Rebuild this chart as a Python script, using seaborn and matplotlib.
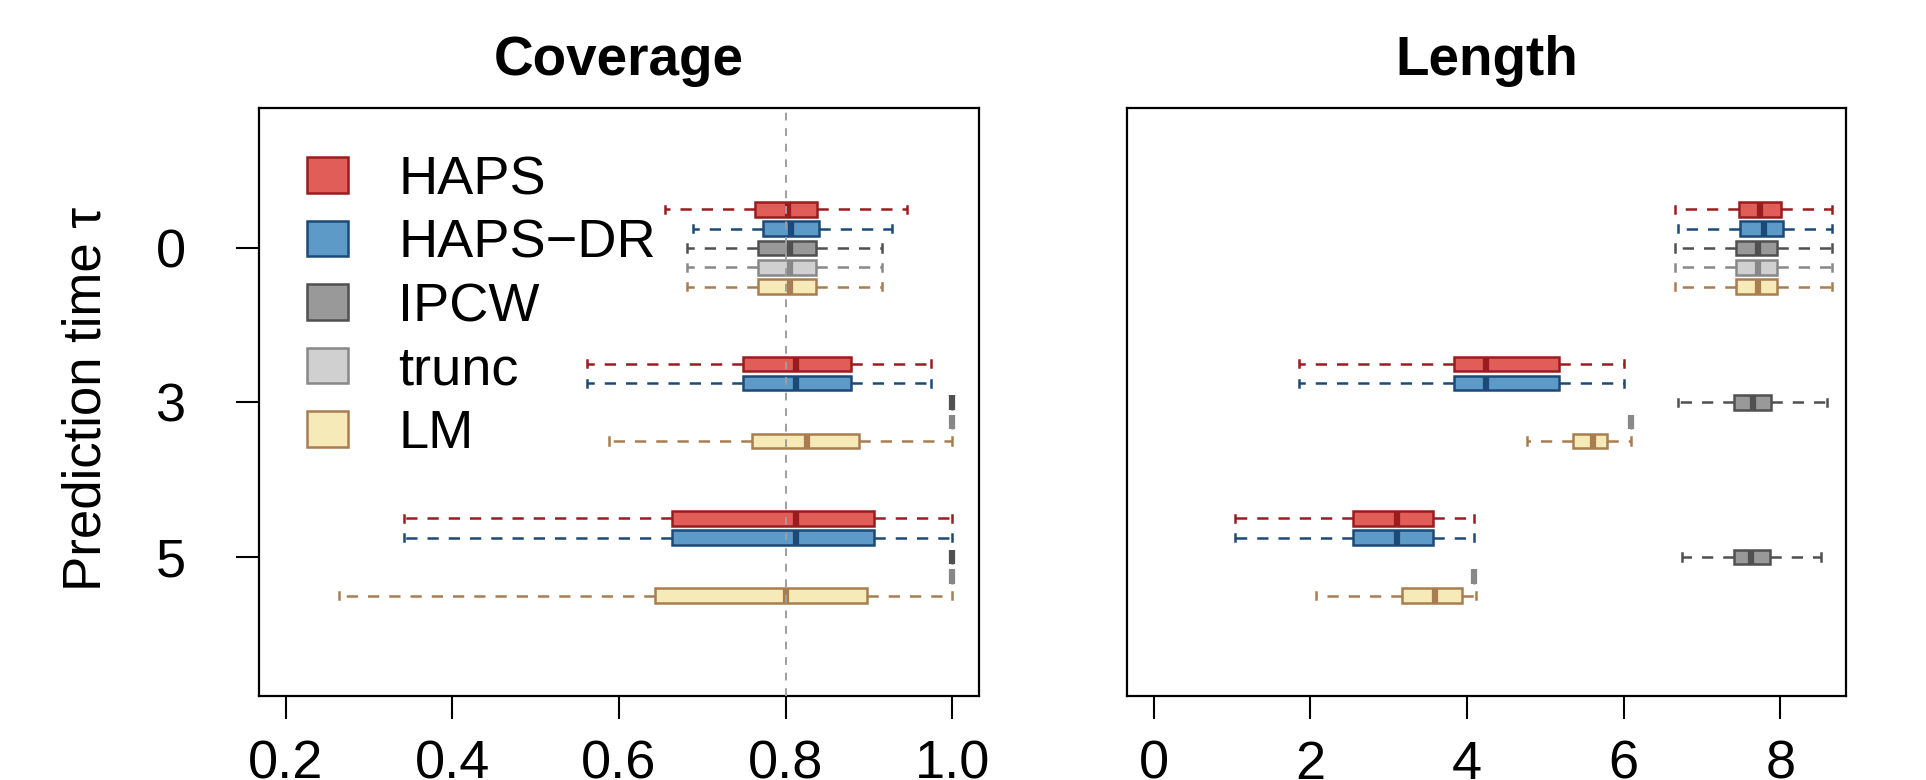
import numpy as np
import pandas as pd
import matplotlib
matplotlib.use('Agg')
import matplotlib.pyplot as plt
import seaborn as sns
from matplotlib.patches import Patch

plt.rcParams['font.family'] = ['Liberation Sans', 'DejaVu Sans']
plt.rcParams['axes.linewidth'] = 1.6

taus = ['0', '3', '5']
methods = ['HAPS', 'HAPS\u2212DR', 'IPCW', 'trunc', 'LM']
fills = ['#E05D58', '#5E9AC8', '#999999', '#D0D0D0', '#F7EAB9']
edges = ['#9B1C1F', '#1C4A78', '#505050', '#888888', '#A87D50']

# five-number summaries [low whisker, Q1, median, Q3, high whisker] for tau = 0, 3, 5
cov_haps = [[0.655, 0.763, 0.803, 0.838, 0.946], [0.562, 0.749, 0.812, 0.878, 0.974], [0.342, 0.664, 0.812, 0.906, 1.0]]
cov_dr = [[0.689, 0.773, 0.806, 0.840, 0.928], [0.562, 0.749, 0.812, 0.878, 0.974], [0.342, 0.664, 0.812, 0.906, 1.0]]
cov_ipcw = [[0.682, 0.767, 0.805, 0.836, 0.916], [1.0, 1.0, 1.0, 1.0, 1.0], [1.0, 1.0, 1.0, 1.0, 1.0]]
cov_trunc = [[0.682, 0.767, 0.805, 0.836, 0.916], [1.0, 1.0, 1.0, 1.0, 1.0], [1.0, 1.0, 1.0, 1.0, 1.0]]
cov_lm = [[0.682, 0.767, 0.805, 0.836, 0.916], [0.588, 0.760, 0.825, 0.888, 1.0], [0.264, 0.643, 0.800, 0.898, 1.0]]

len_haps = [[6.66, 7.47, 7.74, 8.01, 8.66], [1.86, 3.84, 4.24, 5.18, 6.01], [1.04, 2.55, 3.11, 3.57, 4.09]]
len_dr = [[6.70, 7.49, 7.79, 8.03, 8.66], [1.86, 3.84, 4.24, 5.18, 6.01], [1.04, 2.55, 3.11, 3.57, 4.09]]
len_ipcw = [[6.66, 7.44, 7.71, 7.96, 8.66], [6.70, 7.41, 7.65, 7.88, 8.60], [6.74, 7.41, 7.63, 7.87, 8.52]]
len_trunc = [[6.66, 7.44, 7.71, 7.96, 8.66], [6.09, 6.09, 6.09, 6.09, 6.09], [4.09, 4.09, 4.09, 4.09, 4.09]]
len_lm = [[6.66, 7.44, 7.71, 7.96, 8.66], [4.77, 5.35, 5.61, 5.79, 6.09], [2.07, 3.17, 3.59, 3.93, 4.12]]

cov_ticks = [0.2, 0.4, 0.6, 0.8, 1.0]
len_ticks = [0, 2, 4, 6, 8]


def long_table(arrays):
    rows = []
    for m, arr in zip(methods, arrays):
        for t, five in zip(taus, arr):
            for v in five:
                rows.append({'method': m, 'tau': t, 'value': v})
    return pd.DataFrame(rows)


cov_df = long_table([cov_haps, cov_dr, cov_ipcw, cov_trunc, cov_lm])
len_df = long_table([len_haps, len_dr, len_ipcw, len_trunc, len_lm])

fig = plt.figure(figsize=(19.26, 7.8), dpi=100)
ax1 = fig.add_axes([0.1345, 0.1077, 0.3738, 0.7538])
ax2 = fig.add_axes([0.5852, 0.1077, 0.3733, 0.7538])

panels = [(ax1, cov_df, 'Coverage', (0.168, 1.032), cov_ticks),
          (ax2, len_df, 'Length', (-0.34, 8.84), len_ticks)]

for ax, df, title, xlim, ticks in panels:
    sns.boxplot(data=df, x='value', y='tau', hue='method', order=taus, hue_order=methods,
                orient='h', palette=dict(zip(methods, fills)), saturation=1,
                whis=np.inf, width=0.625, gap=0.25, linewidth=1.8,
                whiskerprops={'linestyle': (0, (4.5, 4))},
                medianprops={'linewidth': 4.5},
                legend=False, ax=ax)
    # per-method border colours, as in the base R boxplot
    for cont, ec in zip(ax.containers, edges):
        for b in cont.boxes:
            b.set_edgecolor(ec)
        for ln in list(cont.whiskers) + list(cont.caps) + list(cont.medians):
            ln.set_color(ec)
    ax.set_xlim(*xlim)
    ax.set_ylim(2.9, -0.906)
    ax.set_xticks(ticks)
    ax.set_xticklabels([str(t) for t in ticks])
    ax.set_xlabel('')
    ax.set_ylabel('')
    ax.set_title(title, fontsize=39.5, fontweight='bold', pad=24)
    ax.tick_params(axis='both', labelsize=39, length=16.5, width=1.5)
    ax.tick_params(axis='x', pad=15)
    ax.tick_params(axis='y', pad=36)
    for sp in ax.spines.values():
        sp.set_visible(True)
        sp.set_color('black')

ax1.axvline(0.8, color='#9E9E9E', lw=1.4, ls=(0, (4, 4)), zorder=5)
ax1.set_yticks([0, 1, 2])
ax1.set_yticklabels(taus)
ax1.set_ylabel('Prediction time \u03c4', fontsize=38)
ax1.yaxis.set_label_coords(-0.205, 0.505)
ax2.tick_params(axis='y', left=False, labelleft=False)

handles = [Patch(facecolor=f, edgecolor=e, linewidth=1.8) for f, e in zip(fills, edges)]
ax1.legend(handles, methods, loc='upper left', bbox_to_anchor=(0.0667, 0.92),
           frameon=False, fontsize=39, borderaxespad=0, borderpad=0,
           handlelength=0.76, handleheight=0.63, handletextpad=0.92, labelspacing=0.25)

fig.savefig('out.png', dpi=100)
